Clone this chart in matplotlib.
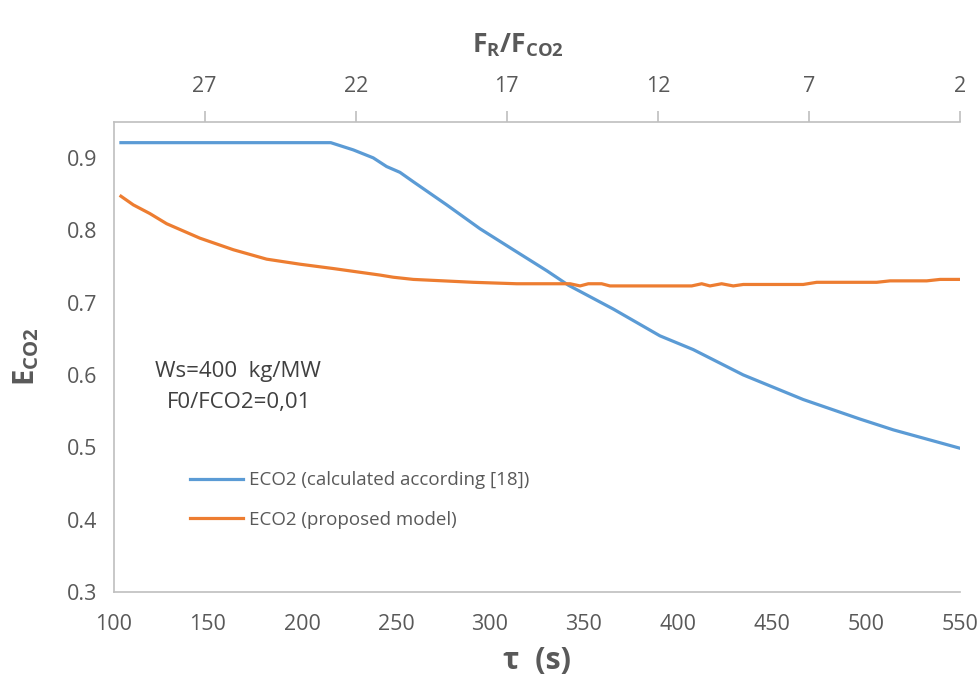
import matplotlib
matplotlib.use("Agg")
import matplotlib.pyplot as plt

plt.rcParams['font.family'] = ['Open Sans', 'DejaVu Sans']
plt.rcParams['mathtext.fontset'] = 'custom'
plt.rcParams['mathtext.rm'] = 'Open Sans'
plt.rcParams['mathtext.bf'] = 'Open Sans:bold'

# values
tau_calc = [103.7, 215.3, 227.3, 237.9, 245.0, 252.1, 259.2, 277.0, 294.7, 312.4,
            330.2, 341.7, 365.6, 390.4, 408.1, 434.7, 466.6, 496.8, 514.6, 550.9]
eco2_calc = [0.921, 0.921, 0.911, 0.900, 0.888, 0.880, 0.867, 0.835, 0.802, 0.773,
             0.744, 0.724, 0.691, 0.654, 0.635, 0.600, 0.566, 0.539, 0.524, 0.498]

tau_model = [103.7, 110.3, 119.1, 128.0, 145.7, 163.5, 181.2, 199.0, 216.7, 241.5,
             248.6, 259.2, 275.2, 291.1, 314.2, 342.6, 347.9, 352.3, 359.4, 363.8,
             407.3, 412.6, 417.0, 423.2, 429.4, 434.7, 466.6, 473.8, 505.7, 512.8,
             532.3, 539.4, 550.9]
eco2_model = [0.847, 0.835, 0.823, 0.809, 0.789, 0.773, 0.760, 0.753, 0.747, 0.738,
              0.735, 0.732, 0.730, 0.728, 0.726, 0.726, 0.723, 0.726, 0.726, 0.723,
              0.723, 0.726, 0.723, 0.726, 0.723, 0.725, 0.725, 0.728, 0.728, 0.730,
              0.730, 0.732, 0.732]

x_ticks = [100, 150, 200, 250, 300, 350, 400, 450, 500, 550]
y_ticks = [0.3, 0.4, 0.5, 0.6, 0.7, 0.8, 0.9]
ratio_ticks = [27, 22, 17, 12, 7, 2]

grey = '#595959'
fig = plt.figure(figsize=(9.8, 6.76), dpi=100)
ax = fig.add_axes([0.1163, 0.1243, 0.8633, 0.6957])

ax.plot(tau_calc, eco2_calc, color='#5B9BD5', lw=2.3,
        label='ECO2 (calculated according [18])')
ax.plot(tau_model, eco2_model, color='#ED7D31', lw=2.3,
        label='ECO2 (proposed model)')

ax.set_xlim(100, 550)
ax.set_ylim(0.3, 0.95)
ax.set_xticks(x_ticks)
ax.set_yticks(y_ticks)
ax.set_yticklabels([str(v) for v in y_ticks])
ax.tick_params(length=0, labelsize=15.5, colors=grey)
ax.tick_params(axis='x', pad=16)
ax.tick_params(axis='y', pad=12)
for s in ['top', 'right']:
    ax.spines[s].set_visible(False)
for s in ['left', 'bottom']:
    ax.spines[s].set_color('#BFBFBF')
    ax.spines[s].set_linewidth(1.2)

ax.set_xlabel('τ  (s)', fontsize=22, fontweight='bold', color=grey, labelpad=8)
ax.set_ylabel(r'$\mathbf{E_{CO2}}$', fontsize=21, color=grey)
ax.yaxis.set_label_coords(-0.086, 0.5)

# secondary axis on top
top = ax.twiny()
top.set_xlim(30, 2)
top.set_xticks(ratio_ticks)
top.tick_params(axis='x', direction='out', length=8, width=1.2, color='#BFBFBF',
                labelsize=15.5, labelcolor=grey, pad=10)
for s in ['left', 'right', 'bottom']:
    top.spines[s].set_visible(False)
top.spines['top'].set_color('#BFBFBF')
top.spines['top'].set_linewidth(1.2)
top.set_xlabel(r'$\mathbf{F_R/F_{CO2}}$', fontsize=19, color=grey)
top.xaxis.set_label_coords(0.4775, 1.148)

fig.text(0.158, 0.45, 'Ws=400  kg/MW', fontsize=16, color='#404040', va='center')
fig.text(0.170, 0.404, 'F0/FCO2=0,01', fontsize=16, color='#404040', va='center')

ax.legend(loc='upper left', bbox_to_anchor=(0.177, 0.328), bbox_transform=fig.transFigure,
          frameon=False, fontsize=13.5, handlelength=2.8, handletextpad=0.35,
          labelspacing=1.15, labelcolor=grey)

fig.savefig('out.png', dpi=100)
